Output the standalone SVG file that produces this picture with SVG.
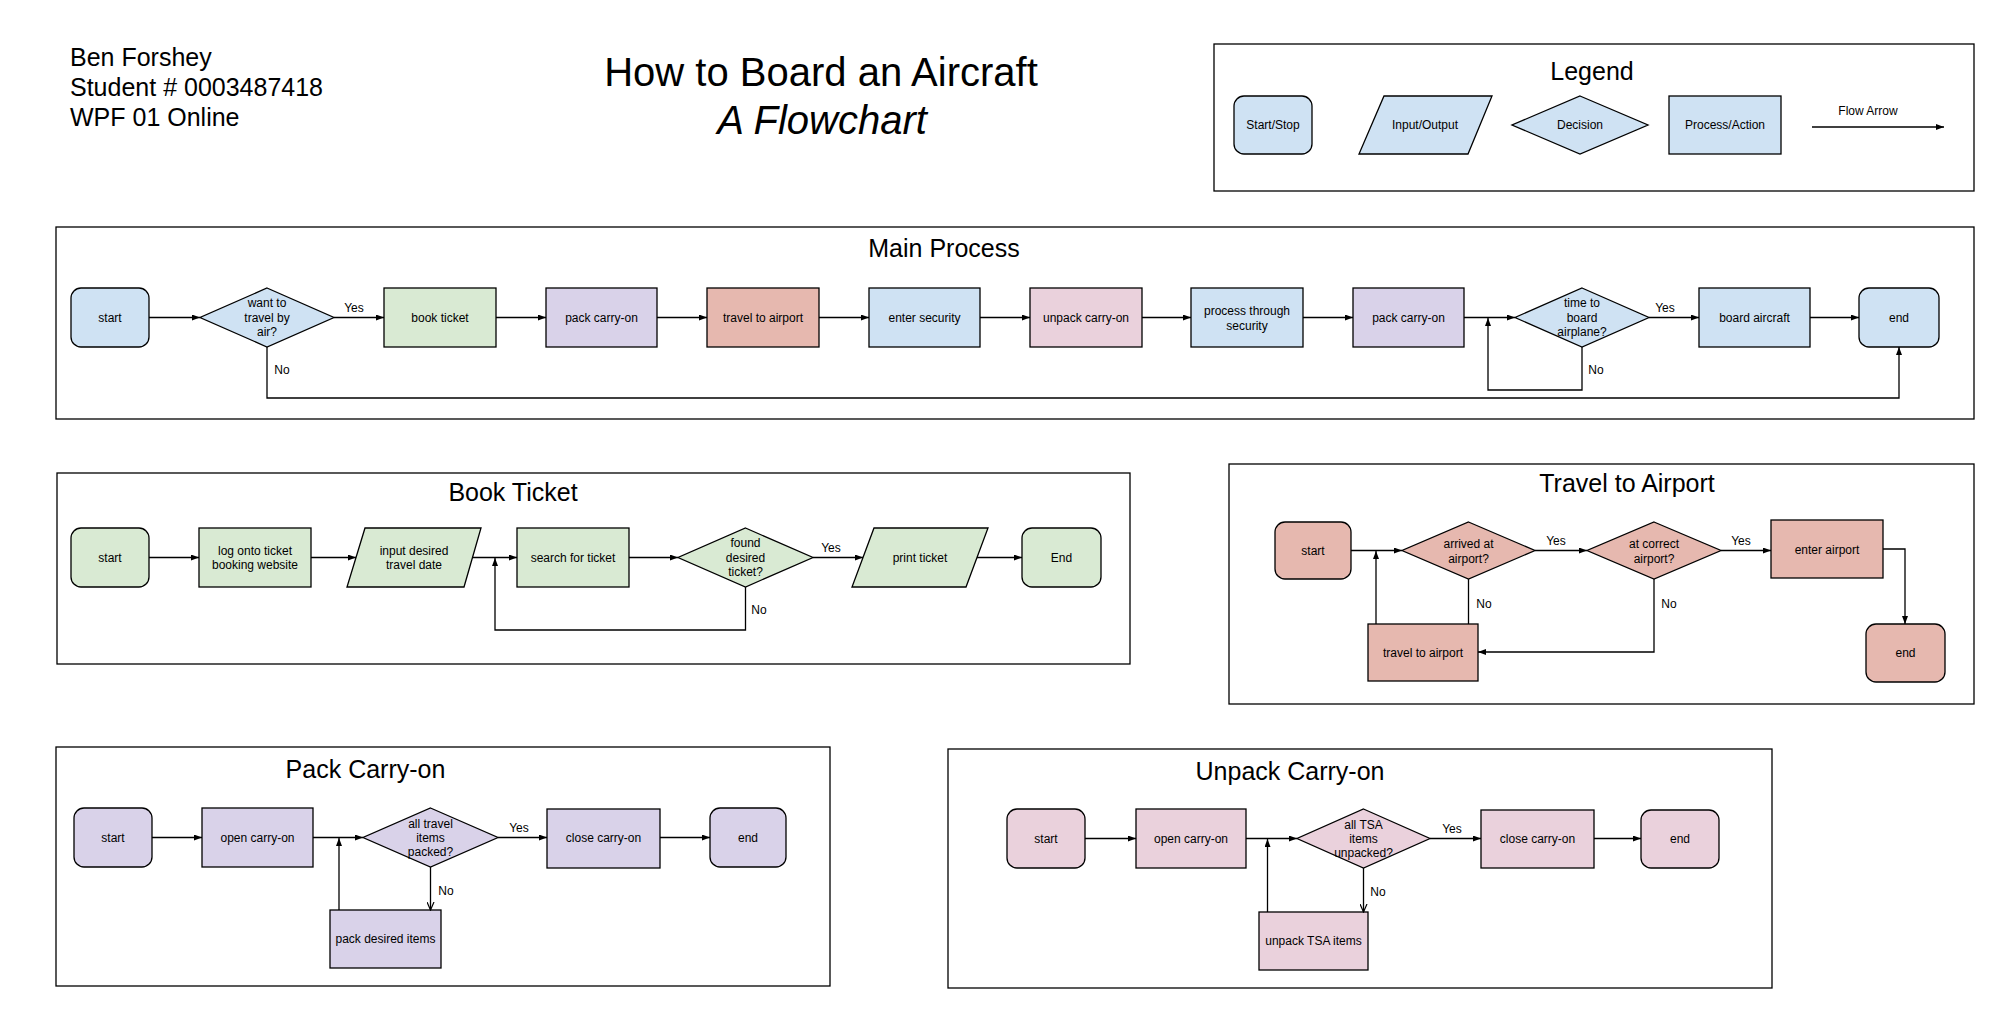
<svg xmlns="http://www.w3.org/2000/svg" width="2000" height="1027" viewBox="0 0 2000 1027">
<style>
text{font-family:"Liberation Sans",Arial,sans-serif;fill:#000}
.t{font-size:12px;text-anchor:middle}
.lbl{font-size:12px;text-anchor:middle}
.h{font-size:25px;text-anchor:middle}
.frame{fill:none;stroke:#000;stroke-width:1.3}
.n{stroke:#000;stroke-width:1.3}
.blue{fill:#cfe2f3}.green{fill:#d9ead3}.purple{fill:#d9d2e9}.red{fill:#e6b8af}.pink{fill:#ead1dc}
.c{fill:none;stroke:#000;stroke-width:1.3}
.a{marker-end:url(#arr)}
.o{marker-end:url(#open)}
</style>
<defs>
<marker id="arr" markerUnits="userSpaceOnUse" markerWidth="8" markerHeight="6" refX="8" refY="3" orient="auto"><path d="M0,0 L8,3 L0,6 z" fill="#000"/></marker>
<marker id="open" markerUnits="userSpaceOnUse" markerWidth="9" markerHeight="8" refX="8" refY="4" orient="auto"><path d="M0,0.5 L8,4 L0,7.5" fill="none" stroke="#000" stroke-width="1.2"/></marker>
</defs>
<rect width="2000" height="1027" fill="#fff"/>

<g id="header">
<text x="70" y="66" font-size="25">Ben Forshey</text>
<text x="70" y="96" font-size="25">Student # 0003487418</text>
<text x="70" y="126" font-size="25">WPF 01 Online</text>
<text x="821" y="86" font-size="40" text-anchor="middle">How to Board an Aircraft</text>
<text x="822" y="134" font-size="40" font-style="italic" text-anchor="middle">A Flowchart</text>
</g>

<g id="legend">
<rect class="frame" x="1214" y="44" width="760" height="147"/>
<text class="h" x="1592" y="80">Legend</text>
<g id="leg-start"><rect class="n blue" x="1234" y="96" width="78" height="58" rx="10"/><text class="t" x="1273" y="129">Start/Stop</text></g>
<g id="leg-io"><polygon class="n blue" points="1384,96 1492,96 1468,154 1359,154"/><text class="t" x="1425" y="129">Input/Output</text></g>
<g id="leg-dec"><polygon class="n blue" points="1580,96 1648,125 1580,154 1512,125"/><text class="t" x="1580" y="129">Decision</text></g>
<g id="leg-proc"><rect class="n blue" x="1669" y="96" width="112" height="58"/><text class="t" x="1725" y="129">Process/Action</text></g>
<g id="leg-flow"><line class="c a" x1="1812" y1="127" x2="1944" y2="127"/><text class="t" x="1868" y="115">Flow Arrow</text></g>
</g>

<!-- Main Process -->
<rect class="frame" x="56" y="227" width="1918" height="192"/>
<text class="h" x="944" y="257">Main Process</text>
<g id="m-start"><rect class="n blue" x="71" y="288" width="78" height="59" rx="10"/><text class="t" x="110" y="321.5">start</text></g>
<g id="m-d1"><polygon class="n blue" points="267,288 334,317.5 267,347 200,317.5"/><text class="t" x="267" y="307">want to</text><text class="t" x="267" y="321.5">travel by</text><text class="t" x="267" y="336">air?</text></g>
<g id="m-book"><rect class="n green" x="384" y="288" width="112" height="59"/><text class="t" x="440" y="321.5">book ticket</text></g>
<g id="m-pack1"><rect class="n purple" x="546" y="288" width="111" height="59"/><text class="t" x="601.5" y="321.5">pack carry-on</text></g>
<g id="m-travel"><rect class="n red" x="707" y="288" width="112" height="59"/><text class="t" x="763" y="321.5">travel to airport</text></g>
<g id="m-enter"><rect class="n blue" x="869" y="288" width="111" height="59"/><text class="t" x="924.5" y="321.5">enter security</text></g>
<g id="m-unpack"><rect class="n pink" x="1030" y="288" width="112" height="59"/><text class="t" x="1086" y="321.5">unpack carry-on</text></g>
<g id="m-process"><rect class="n blue" x="1191" y="288" width="112" height="59"/><text class="t" x="1247" y="314.5">process through</text><text class="t" x="1247" y="329.5">security</text></g>
<g id="m-pack2"><rect class="n purple" x="1353" y="288" width="111" height="59"/><text class="t" x="1408.5" y="321.5">pack carry-on</text></g>
<g id="m-d2"><polygon class="n blue" points="1582,288 1649,317.5 1582,347 1515,317.5"/><text class="t" x="1582" y="307">time to</text><text class="t" x="1582" y="321.5">board</text><text class="t" x="1582" y="336">airplane?</text></g>
<g id="m-board"><rect class="n blue" x="1699" y="288" width="111" height="59"/><text class="t" x="1754.5" y="321.5">board aircraft</text></g>
<g id="m-end"><rect class="n blue" x="1859" y="288" width="80" height="59" rx="10"/><text class="t" x="1899" y="321.5">end</text></g>

<!-- Book Ticket -->
<rect class="frame" x="57" y="473" width="1073" height="191"/>
<text class="h" x="513" y="501">Book Ticket</text>
<g id="b-start"><rect class="n green" x="71" y="528" width="78" height="59" rx="10"/><text class="t" x="110" y="561.5">start</text></g>
<g id="b-log"><rect class="n green" x="199" y="528" width="112" height="59"/><text class="t" x="255" y="554.5">log onto ticket</text><text class="t" x="255" y="569">booking website</text></g>
<g id="b-input"><polygon class="n green" points="365,528 481,528 464,587 347,587"/><text class="t" x="414" y="554.5">input desired</text><text class="t" x="414" y="569">travel date</text></g>
<g id="b-search"><rect class="n green" x="517" y="528" width="112" height="59"/><text class="t" x="573" y="561.5">search for ticket</text></g>
<g id="b-dec"><polygon class="n green" points="745.5,528 813,557.5 745.5,587 678,557.5"/><text class="t" x="745.5" y="547">found</text><text class="t" x="745.5" y="561.5">desired</text><text class="t" x="745.5" y="576">ticket?</text></g>
<g id="b-print"><polygon class="n green" points="874,528 988,528 966,587 852,587"/><text class="t" x="920" y="561.5">print ticket</text></g>
<g id="b-end"><rect class="n green" x="1022" y="528" width="79" height="59" rx="10"/><text class="t" x="1061.5" y="561.5">End</text></g>

<!-- Travel to Airport -->
<rect class="frame" x="1229" y="464" width="745" height="240"/>
<text class="h" x="1627" y="492">Travel to Airport</text>
<g id="t-start"><rect class="n red" x="1275" y="522" width="76" height="57" rx="10"/><text class="t" x="1313" y="554.5">start</text></g>
<g id="t-d1"><polygon class="n red" points="1468.5,522 1535,550.5 1468.5,579 1402,550.5"/><text class="t" x="1468.5" y="548">arrived at</text><text class="t" x="1468.5" y="563">airport?</text></g>
<g id="t-d2"><polygon class="n red" points="1654,522 1721,550.5 1654,579 1587,550.5"/><text class="t" x="1654" y="548">at correct</text><text class="t" x="1654" y="563">airport?</text></g>
<g id="t-enter"><rect class="n red" x="1771" y="520" width="112" height="58"/><text class="t" x="1827" y="554">enter airport</text></g>
<g id="t-end"><rect class="n red" x="1866" y="624" width="79" height="58" rx="10"/><text class="t" x="1905.5" y="657">end</text></g>
<g id="t-travel"><rect class="n red" x="1368" y="624" width="110" height="57"/><text class="t" x="1423" y="657">travel to airport</text></g>

<!-- Pack Carry-on -->
<rect class="frame" x="56" y="747" width="774" height="239"/>
<text class="h" x="365.5" y="778">Pack Carry-on</text>
<g id="p-start"><rect class="n purple" x="74" y="808" width="78" height="59" rx="10"/><text class="t" x="113" y="841.5">start</text></g>
<g id="p-open"><rect class="n purple" x="202" y="808" width="111" height="59"/><text class="t" x="257.5" y="841.5">open carry-on</text></g>
<g id="p-dec"><polygon class="n purple" points="430.5,808 498,837.5 430.5,867 363,837.5"/><text class="t" x="430.5" y="828">all travel</text><text class="t" x="430.5" y="842">items</text><text class="t" x="430.5" y="856">packed?</text></g>
<g id="p-close"><rect class="n purple" x="547" y="809" width="113" height="59"/><text class="t" x="603.5" y="842">close carry-on</text></g>
<g id="p-end"><rect class="n purple" x="710" y="808" width="76" height="59" rx="10"/><text class="t" x="748" y="841.5">end</text></g>
<g id="p-items"><rect class="n purple" x="330" y="910" width="111" height="58"/><text class="t" x="385.5" y="943">pack desired items</text></g>

<!-- Unpack Carry-on -->
<rect class="frame" x="948" y="749" width="824" height="239"/>
<text class="h" x="1290" y="780">Unpack Carry-on</text>
<g id="u-start"><rect class="n pink" x="1007" y="809" width="78" height="59" rx="10"/><text class="t" x="1046" y="842.5">start</text></g>
<g id="u-open"><rect class="n pink" x="1136" y="809" width="110" height="59"/><text class="t" x="1191" y="842.5">open carry-on</text></g>
<g id="u-dec"><polygon class="n pink" points="1363.5,809 1430,838.5 1363.5,868 1297,838.5"/><text class="t" x="1363.5" y="829">all TSA</text><text class="t" x="1363.5" y="843">items</text><text class="t" x="1363.5" y="857">unpacked?</text></g>
<g id="u-close"><rect class="n pink" x="1481" y="810" width="113" height="58"/><text class="t" x="1537.5" y="843">close carry-on</text></g>
<g id="u-end"><rect class="n pink" x="1641" y="810" width="78" height="58" rx="10"/><text class="t" x="1680" y="843">end</text></g>
<g id="u-items"><rect class="n pink" x="1259" y="912" width="109" height="58"/><text class="t" x="1313.5" y="945">unpack TSA items</text></g>

<g id="connectors">
<!-- main -->
<line class="c a" x1="149" y1="317.5" x2="200" y2="317.5"/>
<line class="c a" x1="334" y1="317.5" x2="384" y2="317.5"/>
<line class="c a" x1="496" y1="317.5" x2="546" y2="317.5"/>
<line class="c a" x1="657" y1="317.5" x2="707" y2="317.5"/>
<line class="c a" x1="819" y1="317.5" x2="869" y2="317.5"/>
<line class="c a" x1="980" y1="317.5" x2="1030" y2="317.5"/>
<line class="c a" x1="1142" y1="317.5" x2="1191" y2="317.5"/>
<line class="c a" x1="1303" y1="317.5" x2="1353" y2="317.5"/>
<line class="c a" x1="1464" y1="317.5" x2="1515" y2="317.5"/>
<line class="c a" x1="1649" y1="317.5" x2="1699" y2="317.5"/>
<line class="c a" x1="1810" y1="317.5" x2="1859" y2="317.5"/>
<path class="c a" d="M267,347 V398 H1899 V347"/>
<path class="c a" d="M1582,347 V390 H1488 V318"/>
<text class="lbl" x="354" y="312">Yes</text>
<text class="lbl" x="1665" y="312">Yes</text>
<text class="lbl" x="282" y="374">No</text>
<text class="lbl" x="1596" y="374">No</text>
<!-- book ticket -->
<line class="c a" x1="149" y1="557.5" x2="199" y2="557.5"/>
<line class="c a" x1="311" y1="557.5" x2="356" y2="557.5"/>
<line class="c a" x1="472.5" y1="557.5" x2="517" y2="557.5"/>
<line class="c a" x1="629" y1="557.5" x2="678" y2="557.5"/>
<line class="c a" x1="813" y1="557.5" x2="863" y2="557.5"/>
<line class="c a" x1="977" y1="557.5" x2="1022" y2="557.5"/>
<path class="c a" d="M745.5,587 V630 H495 V558"/>
<text class="lbl" x="831" y="552">Yes</text>
<text class="lbl" x="759" y="614">No</text>
<!-- travel -->
<line class="c a" x1="1351" y1="550.5" x2="1402" y2="550.5"/>
<line class="c a" x1="1535" y1="550.5" x2="1587" y2="550.5"/>
<line class="c a" x1="1721" y1="550.5" x2="1771" y2="550.5"/>
<path class="c a" d="M1883,549 H1905 V624"/>
<path class="c a" d="M1376,624 V551"/>
<path class="c" d="M1468.5,579 V624"/>
<path class="c a" d="M1654,579 V652 H1478"/>
<text class="lbl" x="1556" y="545">Yes</text>
<text class="lbl" x="1741" y="545">Yes</text>
<text class="lbl" x="1484" y="608">No</text>
<text class="lbl" x="1669" y="608">No</text>
<!-- pack -->
<line class="c a" x1="152" y1="837.5" x2="202" y2="837.5"/>
<line class="c a" x1="313" y1="837.5" x2="363" y2="837.5"/>
<line class="c a" x1="498" y1="837.5" x2="547" y2="837.5"/>
<line class="c a" x1="660" y1="837.5" x2="710" y2="837.5"/>
<path class="c o" d="M430.5,867 V910"/>
<path class="c a" d="M339,910 V838"/>
<text class="lbl" x="519" y="832">Yes</text>
<text class="lbl" x="446" y="895">No</text>
<!-- unpack -->
<line class="c a" x1="1085" y1="838.5" x2="1136" y2="838.5"/>
<line class="c a" x1="1246" y1="838.5" x2="1297" y2="838.5"/>
<line class="c a" x1="1430" y1="838.5" x2="1481" y2="838.5"/>
<line class="c a" x1="1594" y1="838.5" x2="1641" y2="838.5"/>
<path class="c o" d="M1363.5,868 V912"/>
<path class="c a" d="M1267.5,912 V839"/>
<text class="lbl" x="1452" y="833">Yes</text>
<text class="lbl" x="1378" y="896">No</text>
</g>
</svg>
